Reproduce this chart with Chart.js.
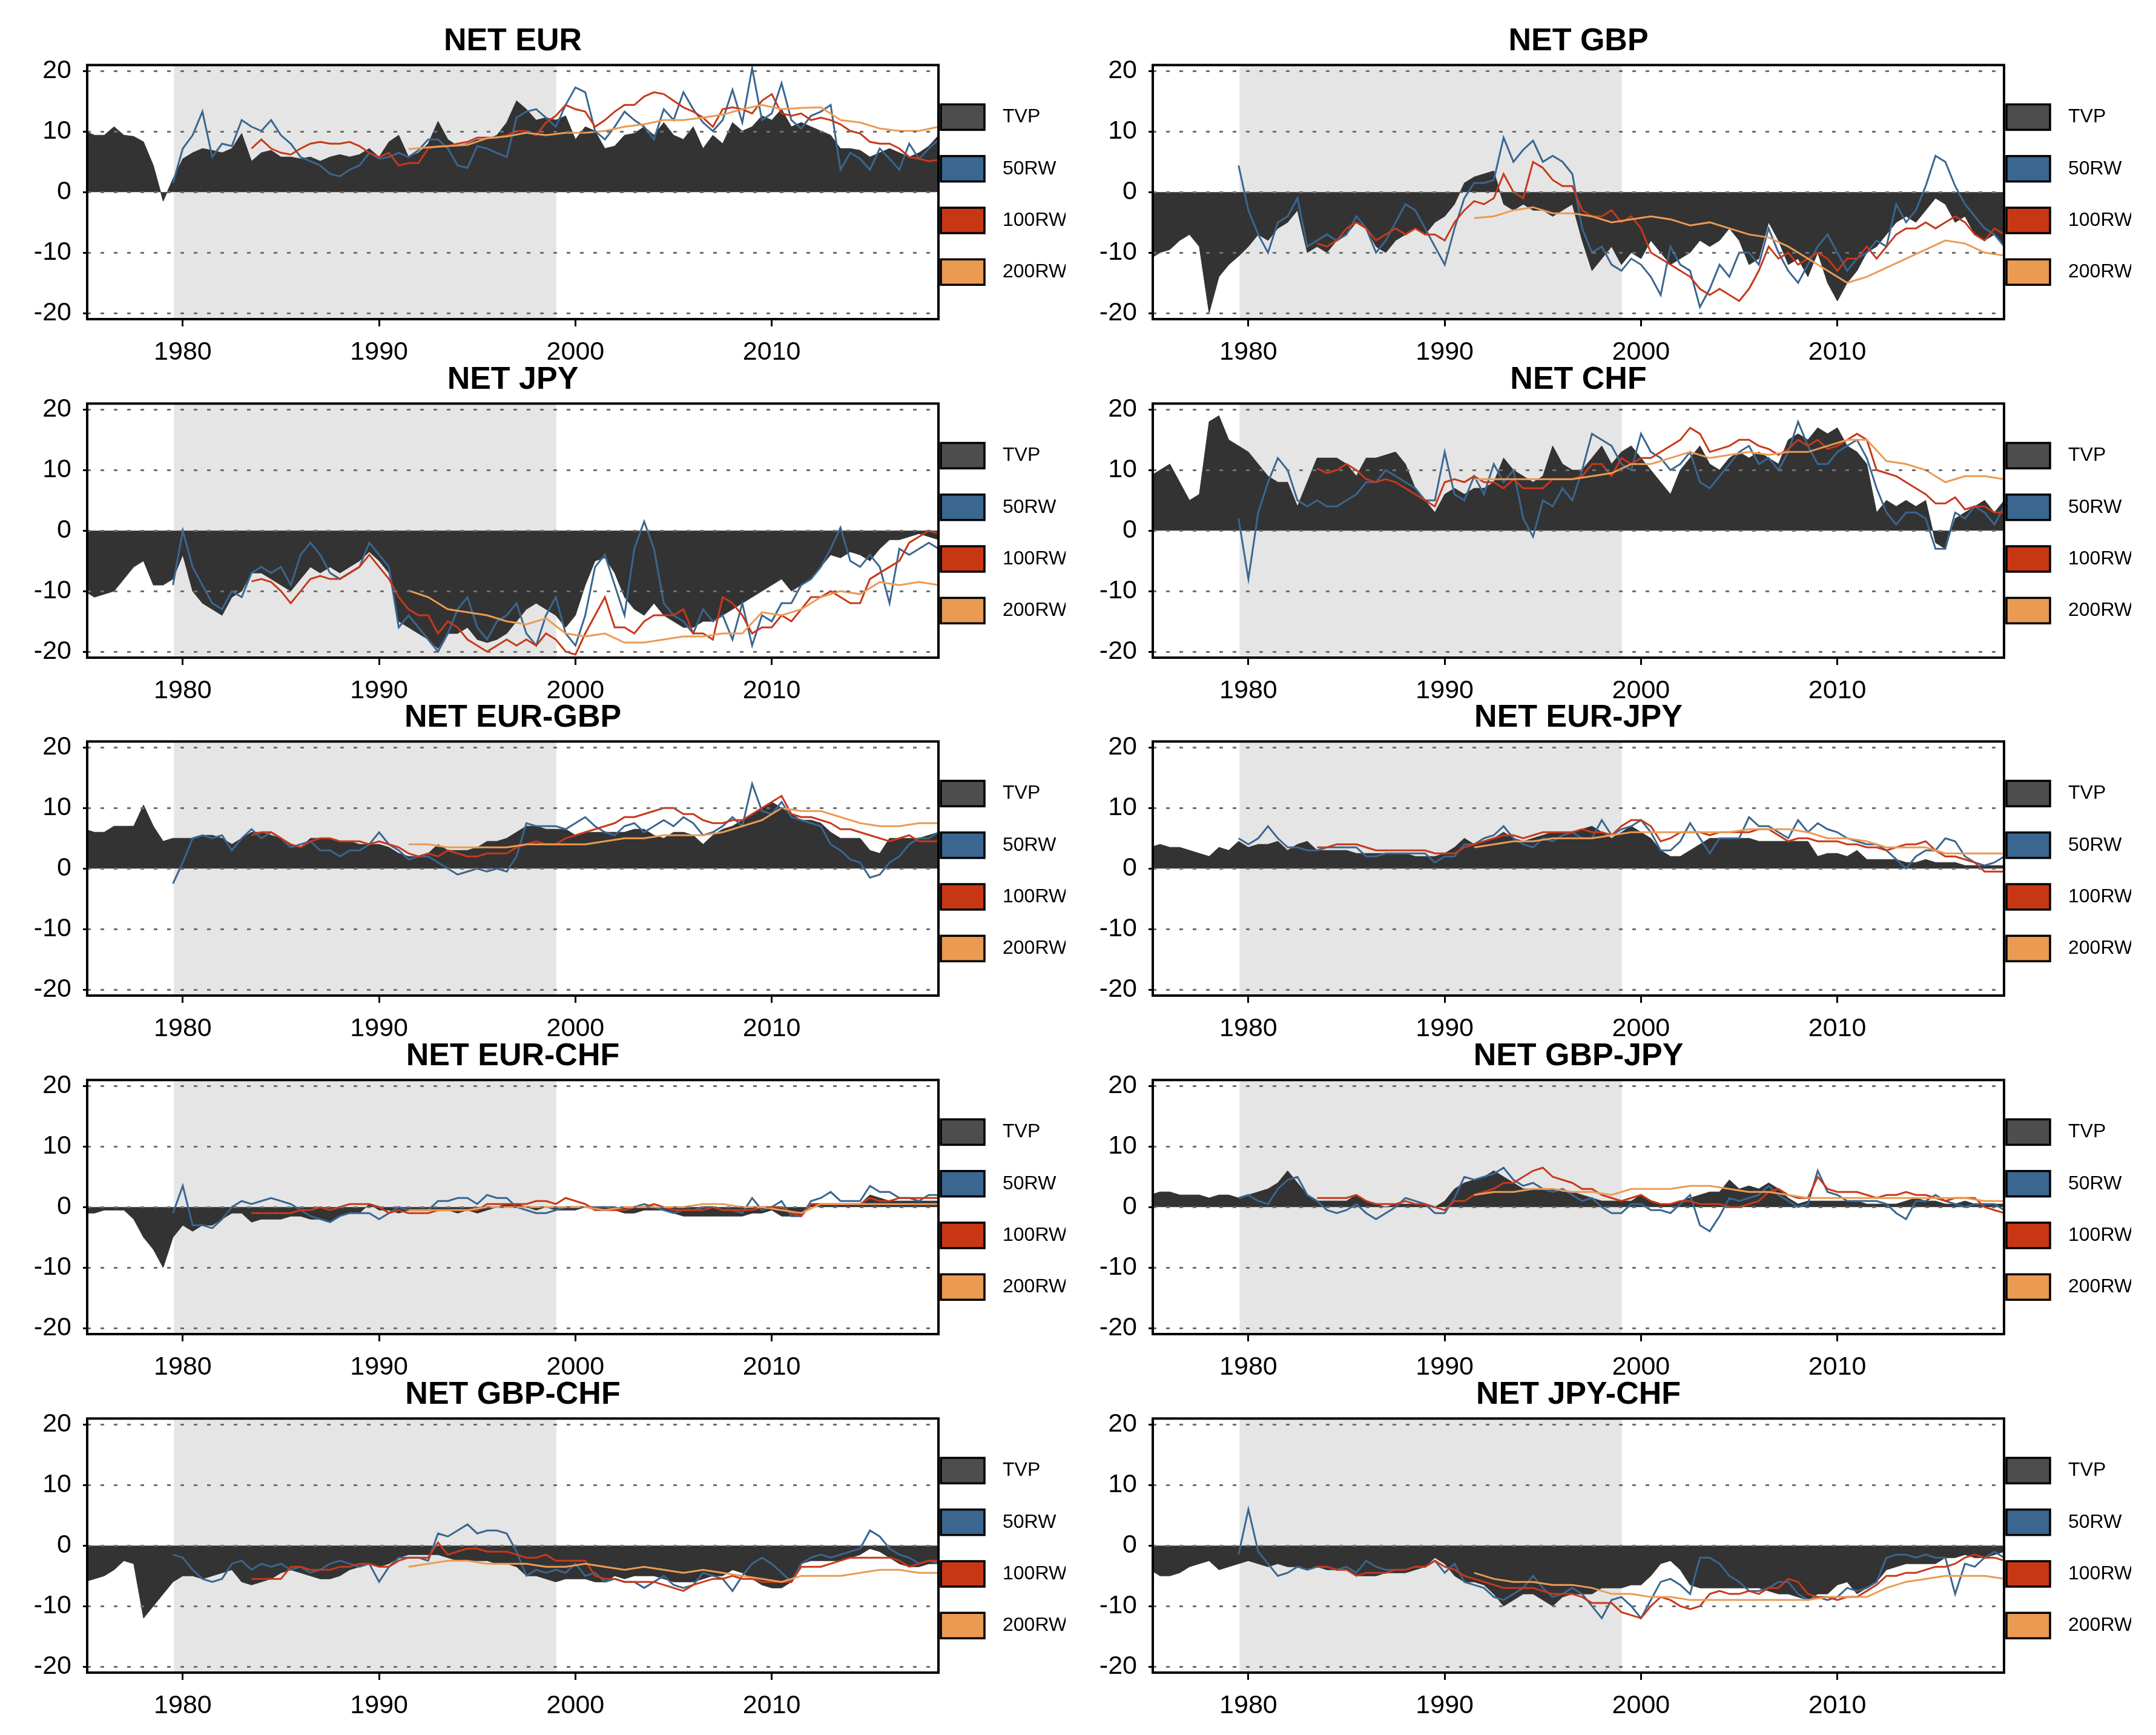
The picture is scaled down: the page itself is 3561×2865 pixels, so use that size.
<!DOCTYPE html>
<html>
<head>
<meta charset="utf-8">
<script src="https://cdn.jsdelivr.net/npm/chart.js@4.4.1/dist/chart.umd.min.js"></script>
<style>
  body { margin: 0; background: #fff; }
  #wrap { position: relative; width: 3561px; height: 2865px; overflow: hidden; background: #fff; }
  #wrap canvas { position: absolute; }
</style>
</head>
<body>
<div id="wrap"></div>
<script>
// axis ticks
const xTicks = [1980, 1990, 2000, 2010];
const yTicks = [-20, -10, 0, 10, 20];

// series: TVP every half year from 1975, rolling windows from their first estimate
const seriesNames = ["TVP", "50RW", "100RW", "200RW"];
const seriesStart = [1975, 1979.5, 1983.5, 1991.5];
const seriesStep = [0.5, 0.5, 0.5, 1];

// grey band (1979.5 - 1999)
const shadeFrom = 1979.55, shadeTo = 1999.02;

const panelTitles = ["NET EUR", "NET GBP", "NET JPY", "NET CHF", "NET EUR-GBP",
  "NET EUR-JPY", "NET EUR-CHF", "NET GBP-JPY", "NET GBP-CHF", "NET JPY-CHF"];

// ---- NET EUR
const eur_tvp = [10.1, 9.4, 9.4, 10.8, 9.4, 9.2, 8.3, 4.4, -1.5, 2.2,
  5.5, 6.5, 7.2, 6.9, 6.5, 7.2, 9.7, 5.1, 6.5, 6.9,
  5.8, 5.8, 5.5, 5.8, 5.1, 5.8, 6.2, 5.8, 6.2, 7.2,
  5.8, 8.3, 9.4, 5.8, 6.5, 8.0, 11.7, 8.7, 7.6, 8.0,
  8.7, 8.7, 9.4, 11.5, 15.1, 13.7, 11.9, 12.3, 11.9, 12.6,
  8.7, 10.8, 10.1, 7.2, 7.6, 9.4, 9.7, 10.8, 9.4, 11.5,
  9.4, 8.7, 10.8, 7.2, 9.4, 8.0, 11.5, 10.1, 10.8, 12.6,
  11.9, 13.7, 10.8, 11.5, 10.8, 10.1, 9.4, 7.2, 7.2, 6.9,
  5.8, 6.5, 7.2, 6.5, 5.8, 6.5, 7.6, 9.4];
const eur_rw50 = [1.5,
  7.2, 9.4, 13.3, 5.8, 8.0, 7.6, 11.9, 10.8, 10.1, 11.9,
  9.4, 8.0, 5.8, 5.1, 4.4, 3.0, 2.6, 3.7, 4.4, 6.5,
  5.5, 5.8, 6.5, 5.8, 6.9, 8.7, 8.7, 7.2, 4.4, 4.0,
  7.6, 7.2, 6.5, 5.8, 12.3, 13.3, 13.7, 12.3, 10.8, 14.4,
  17.3, 16.5, 10.1, 8.7, 10.8, 13.3, 11.9, 10.8, 8.7, 13.7,
  11.9, 16.5, 13.7, 11.5, 10.1, 11.9, 16.9, 11.5, 20.5, 11.9,
  13.0, 18.0, 11.9, 10.5, 12.6, 13.3, 14.4, 3.7, 6.5, 5.5,
  3.7, 7.2, 5.5, 3.7, 8.0, 5.5, 7.2, 8.7];
const eur_rw100 = [7.2, 8.7, 7.2,
  6.5, 6.2, 7.2, 8.0, 8.3, 8.0, 8.0, 8.3, 7.6, 6.5,
  5.8, 6.5, 4.4, 4.8, 4.8, 7.2, 7.6, 7.6, 8.0, 8.3,
  9.0, 9.0, 9.0, 9.4, 10.1, 10.1, 9.4, 11.5, 12.6, 14.4,
  13.7, 13.3, 10.8, 11.9, 13.3, 14.4, 14.4, 15.8, 16.5, 16.2,
  15.1, 14.0, 13.3, 12.3, 10.8, 13.7, 14.0, 13.7, 13.0, 15.1,
  16.2, 13.0, 12.6, 13.0, 11.9, 12.3, 11.9, 11.2, 10.1, 9.7,
  8.3, 8.0, 8.0, 7.2, 5.8, 5.5, 5.1, 5.3];
const eur_rw200 = [7.1, 7.4, 7.6, 7.8, 8.9, 9.2, 9.8, 9.4, 9.8, 9.8, 10.1, 10.8, 11.2, 11.9,
  11.9, 12.3, 12.8, 13.7, 14.4, 13.7, 13.9, 14.0, 11.9, 11.5, 10.5, 10.1, 10.1, 10.8];

// ---- NET GBP
const gbp_tvp = [-11, -10, -9.5, -8, -7, -9, -20, -14, -12, -10.6,
  -9, -7, -8, -6, -5, -3, -10, -9, -10, -8,
  -7, -5, -6, -9, -10, -8, -7, -6, -7, -5,
  -4, -2, 1.5, 2.5, 3, 3.5, -2, -3, -2, -3,
  -3, -4, -3, -2, -8, -13, -11, -9, -12, -10,
  -11, -8, -10, -12, -11, -10, -8, -9, -8, -6,
  -8, -12, -11, -5, -8, -12, -11, -14, -10, -15,
  -18, -15, -13, -10, -9, -7, -5, -4, -5, -3,
  -1, -2, -5, -4, -7, -8, -7, -9];
const gbp_rw50 = [4.4,
  -3, -7, -10, -5, -4, -1, -9, -8, -7, -8,
  -7, -4, -6, -10, -8, -5, -2, -3, -6, -9,
  -12, -6, -1, 1.5, 1.5, 2, 9, 5, 7, 8.5,
  5, 6, 5, 3, -6, -10, -9, -12, -13, -11,
  -12, -14, -17, -9, -12, -13, -19, -16, -12, -14,
  -10, -10, -12, -6, -10, -13, -15, -12, -9, -7,
  -10, -13, -11, -10, -8, -9, -2, -5, -3, 1,
  6, 5, 1, -2, -4, -6, -7, -9];
const gbp_rw100 = [-8.5, -9, -8,
  -6, -5, -6, -8, -7, -6, -7, -6, -7, -7,
  -8, -5, -3, -1.5, -2, -1, 3, 0, -1, 5,
  4, 2, 1, 1, -3, -4, -4, -3, -5, -4,
  -6, -10, -11, -12, -13, -14, -16, -17, -16, -17,
  -18, -16, -13, -9, -11, -10, -12, -11, -10, -11,
  -13, -11, -11, -9, -11, -9, -7, -6, -6, -5,
  -6, -5, -4, -5, -7, -8, -6, -7];
const gbp_rw200 = [-4.3, -4, -3, -2.5, -3.5, -3.5, -4, -5, -4.5, -4, -4.5, -5.5, -5, -6,
  -7, -7.5, -9, -11, -13, -15, -14, -12.5, -11, -9.5, -8, -8.5, -10, -10.5];

// ---- NET JPY
const jpy_tvp = [-10, -11, -10.5, -10, -8, -6, -5, -9, -9, -8,
  -4, -10, -12, -13, -14, -11, -10, -7, -7, -8,
  -9, -10, -8, -6, -7, -6, -7, -6, -5, -3.5,
  -5, -7, -15, -16, -17, -18, -19.5, -17, -17, -16,
  -18, -18.5, -18, -17, -15, -13, -12, -13, -14, -16,
  -14, -9, -5, -4.5, -7, -11, -13, -14, -12, -14,
  -15, -16, -16, -15, -15, -14, -13, -12, -11, -10,
  -9, -8, -10, -9, -8, -6, -4, -4.5, -3.5, -4,
  -5, -3, -1.5, -1.5, -1, -0.5, -1, -1.5];
const jpy_rw50 = [-9,
  0, -6, -9, -12, -13, -10, -11, -7, -6, -7,
  -6, -9, -4, -2, -4, -7, -8, -7, -6, -2,
  -4, -6, -16, -14, -16, -18, -20, -17, -13, -11,
  -16, -18, -15, -14, -12, -17, -19, -14, -11, -17,
  -19, -14, -6, -4, -9, -14, -3, 1.5, -3, -12,
  -14, -15, -17, -13, -15, -14, -18, -12, -19, -14,
  -15, -12, -12, -9, -8, -6, -3, 0.5, -5, -6,
  -4, -6, -12, -3, -4, -3, -2, -3];
const jpy_rw100 = [-8.4, -8, -8.5,
  -10, -12, -10, -8, -7.5, -8, -8, -7, -6, -4,
  -6, -8, -11, -13, -14, -14, -17, -15, -16, -18,
  -19, -20, -19, -18, -19, -18, -19, -17, -18, -20,
  -20.5, -17, -14, -11, -16, -16, -17, -15, -14, -14,
  -14, -13, -17, -17, -18, -11, -12, -14, -17, -16,
  -16, -14, -15, -13, -11, -11, -10, -11, -12, -12,
  -8, -7, -6, -5, -2, -1, 0, -0.5];
const jpy_rw200 = [-9.9, -11, -13, -13.5, -14, -15, -15.5, -14.5, -17, -17.5, -17, -18.5, -18.5, -18,
  -17.5, -17.5, -17, -17, -13.5, -14, -13, -11, -10, -10.5, -8.5, -9, -8.5, -9];

// ---- NET CHF
const chf_tvp = [9, 10, 11, 8, 5, 6, 18, 19, 15, 14,
  13, 11, 9, 8, 8, 4, 8, 12, 12, 12,
  11, 9, 12, 12, 12.5, 13, 11, 7, 5, 3,
  6, 7, 6, 7, 7, 8, 12, 10, 9, 8,
  9, 14, 11, 10, 10, 12, 14, 11, 13, 14,
  12, 10, 8, 6, 10, 12, 14, 11, 10, 12,
  13, 12, 13, 12, 11, 15, 16, 15, 17, 16,
  17, 14, 13, 11, 3, 5, 4, 5, 4, 5,
  -2, -3, 2, 3, 4, 5, 3, 5];
const chf_rw50 = [2,
  -8, 3, 8, 12, 10, 5, 4, 5, 4, 4,
  5, 6, 8, 8, 10, 9, 8, 7, 5, 5,
  13, 6, 5, 9, 6, 11, 8, 10, 2, -1,
  5, 4, 7, 5, 10, 16, 15, 14, 11, 10,
  16, 13, 12, 10, 11, 13, 8, 7, 9, 11,
  13, 14, 11, 12, 10, 13, 18, 14, 11, 11,
  13, 14, 15, 12, 7, 3, 1, 3, 3, 2,
  -3, -3, 3, 2, 4, 3, 1, 4];
const chf_rw100 = [10.3, 9.5, 10,
  11, 10, 8.5, 8, 8.5, 8, 7, 6, 5, 4,
  8, 8.5, 8, 9, 8, 8, 7, 8.5, 7, 7,
  7, 8.5, 8.5, 8.5, 9, 11, 11, 9, 12, 11,
  12, 12, 13, 14, 15, 17, 16, 13, 13.5, 14,
  15, 15, 14, 13.5, 12.5, 13.5, 15, 14, 15, 13.5,
  14, 15, 16, 15, 10, 9.5, 9, 8, 7, 6,
  4.5, 4.5, 5.5, 3.5, 4, 4, 3, 3];
const chf_rw200 = [8.5, 8.5, 8.5, 8.5, 8.5, 8.5, 9, 9.5, 11, 11, 12, 13, 12, 12.5,
  13, 12.5, 13, 13, 14, 15, 15, 11.5, 11, 10, 8, 9, 9, 8.5];

// ---- NET EUR-GBP
const eurgbp_tvp = [6.5, 6, 6, 7, 7, 7, 10.5, 7, 4.5, 5,
  5, 5, 5.5, 5.5, 5, 4, 5, 6, 6, 5.5,
  5, 4, 3.5, 5, 5, 5, 4.5, 4.5, 4, 4,
  4, 3.5, 2.5, 2, 2, 2.5, 4, 3, 3, 3,
  3.5, 4.5, 4.5, 5, 6, 7, 7, 6.5, 6.5, 6.5,
  5.5, 6, 6, 6, 6, 6, 6.5, 6.5, 5.5, 5,
  6, 6, 5.5, 4, 5.5, 6.5, 7, 8, 9, 10,
  11, 10, 9, 8, 8, 7.5, 6, 5, 5, 5,
  3, 2.5, 5, 5, 5, 5, 5.5, 6];
const eurgbp_rw50 = [-2.5,
  1, 5, 5.5, 5, 5.5, 3, 5, 6.5, 5, 6,
  5, 3.5, 4, 4.5, 3, 3, 2, 3, 3, 4,
  6, 4, 3, 1.5, 2, 2, 1, 0, -1, -0.5,
  0, -0.5, 0, -0.5, 2, 7.5, 7, 7, 7, 6.5,
  7.5, 8.5, 7, 6, 5.5, 7, 7.5, 6, 7, 8,
  7, 8.5, 7.5, 5.5, 6, 7, 8.5, 7, 14, 9.5,
  9, 11, 8.5, 8, 7.5, 7, 4, 3, 1.5, 1,
  -1.5, -1, 1, 2, 4, 5, 5, 6];
const eurgbp_rw100 = [5.5, 6, 6,
  5, 4, 3.5, 4.5, 5, 5, 4.5, 4.5, 4.5, 4,
  4.5, 4, 3.5, 2.5, 2, 2.5, 2, 3, 2.5, 2,
  2, 2.5, 2.5, 2.5, 3.5, 4, 4.5, 4, 4, 5,
  5.5, 6, 6.5, 7, 7.5, 8.5, 8.5, 9, 9.5, 10,
  10, 9, 9, 8, 7.5, 7.5, 8, 8, 9, 10,
  11, 12, 9, 8.5, 8.5, 8, 7.5, 6.5, 6.5, 6,
  5.5, 5, 4.5, 5, 5.5, 4.5, 4.5, 4.5];
const eurgbp_rw200 = [4, 4, 3.5, 3.5, 3.5, 3.5, 4, 4, 4, 4, 4.5, 5, 5, 5.5,
  5.5, 5.5, 6, 7, 8, 10, 9.5, 9.5, 8.5, 7.5, 7, 7, 7.5, 7.5];

// ---- NET EUR-JPY
const eurjpy_tvp = [3.5, 4, 3.5, 3.5, 3, 2.5, 2, 3.5, 3, 4.5,
  3.5, 4, 4, 4.5, 3, 4, 4.5, 3, 3, 3,
  3, 2.5, 2.5, 2.5, 2.5, 2.5, 2.5, 2, 2, 2,
  2.5, 3.5, 5, 4, 4.5, 5, 6, 5, 4.5, 5,
  5.5, 6, 6, 6, 6.5, 7, 6, 5, 6, 7,
  6, 5, 3, 2, 2, 3, 4, 5, 5, 5,
  5, 5, 4.5, 4.5, 4.5, 4.5, 4.5, 4.5, 2, 2.5,
  2.5, 2, 3, 1.5, 1.5, 1.5, 1.5, 1, 1, 1.5,
  1, 1, 1, 0.5, 0.5, 0.5, 0.5, 0.5];
const eurjpy_rw50 = [5,
  4, 5, 7, 5, 3.5, 3.5, 3, 3, 3.5, 3.5,
  3.5, 3.5, 2, 2, 2.5, 2.5, 2.5, 2.5, 2.5, 1,
  2, 2, 4, 4, 5, 5.5, 7, 5, 4, 3.5,
  5, 4.5, 5.5, 6, 5, 5, 8, 5.5, 6.5, 7,
  8, 6, 3, 3, 4.5, 7.5, 5, 2.5, 5, 5,
  5, 8.5, 7, 7, 6, 5, 8, 6, 7.5, 6.5,
  6, 5, 4.5, 4, 4, 3, 1.5, 0, 2, 3,
  3, 5, 4.5, 2, 1, 0.5, 1, 2];
const eurjpy_rw100 = [3.5, 3.5, 4,
  4, 4, 3.5, 3, 3, 3, 3, 3, 3, 2.5,
  2.5, 2.5, 3.5, 4, 4.5, 5, 5.5, 5.5, 5, 5.5,
  6, 6, 6, 6, 6.5, 6, 6, 5.5, 7, 8,
  8, 7, 4.5, 5, 6, 6, 6, 5.5, 6, 6,
  6, 6, 6.5, 6.5, 5.5, 4.5, 5, 5, 4.5, 4.5,
  4.5, 4, 4, 3.5, 3.5, 3, 3.5, 4, 4, 4.5,
  3, 2, 2, 1.5, 1, -0.5, -0.5, -0.5];
const eurjpy_rw200 = [3.5, 4, 4.5, 4.5, 5, 5, 5, 5.5, 6, 6, 6, 6, 6, 6,
  6.5, 6.5, 6.5, 6, 5, 5, 4.5, 3.5, 3.5, 3.5, 2.5, 2.5, 2.5, 2.5];

// ---- NET EUR-CHF
const eurchf_tvp = [-1, -1, -0.5, -0.5, -0.5, -2, -5, -7, -10, -5,
  -3, -4, -3, -3, -2, -1, -1, -2.5, -2, -2,
  -2, -1.5, -1.5, -2, -2, -2.5, -1.5, -1, -1, 0.5,
  -0.5, -0.5, -1, -0.5, -0.5, -0.5, -0.5, -0.5, -1, -0.5,
  -1, -0.5, 0, 0.5, 0.5, 0, -0.5, 0, -0.5, -0.5,
  -0.5, 0, -0.5, -0.5, -0.5, -1, -1, -0.5, -0.5, -0.5,
  -1, -1.5, -1.5, -1.5, -1.5, -1.5, -1.5, -1.5, -1, -1,
  -0.5, -1.5, -1.5, -1.5, 0.5, 0.5, 0.5, 0.5, 0.5, 0.5,
  2, 1.5, 1, 1, 1, 1, 1, 1];
const eurchf_rw50 = [-1,
  3.5, -3, -3, -3.5, -2, 0, 1, 0.5, 1, 1.5,
  1, 0.5, -0.5, -1.5, -2, -2.5, -1.5, -1, -1, -1,
  -2, -1, 0, -0.5, -0.5, -0.5, 1, 1, 1.5, 1.5,
  0.5, 2, 1.5, 1.5, 0, -0.5, -1, -1, -0.5, 0,
  0, 0, 0, 0, 0, -0.5, 0, 0.5, 0, -0.5,
  -1, -0.5, -0.5, 0, 0, -0.5, -0.5, -1, 1.5, -0.5,
  0, 1, -1.5, -1.5, 1, 1.5, 2.5, 1, 1, 1,
  3.5, 2.5, 2.5, 1.5, 1.5, 1, 2, 2];
const eurchf_rw100 = [-1, -1, -1,
  -1, -1, -0.5, -0.5, 0, -0.5, 0, 0.5, 0.5, 0.5,
  0, -1, -0.5, -1, -1, -1, -0.5, -0.5, -0.5, -0.5,
  -0.5, 0.5, 0.5, 0.5, 0.5, 0.5, 1, 1, 0.5, 1.5,
  1, 0.5, -0.5, -0.5, -0.5, -0.5, 0, 0, 0.5, 0,
  -0.5, -0.5, -0.5, -0.5, 0, -0.5, -0.5, -0.5, -0.5, 0,
  0, 0, -1, -1.5, 0.5, 0.5, 0.5, 0.5, 0.5, 0.5,
  1.5, 1, 1, 1.5, 1.5, 1.5, 1.5, 1.5];
const eurchf_rw200 = [-0.5, -0.5, -0.5, -0.5, 0, 0, 0, 0, 0, 0, -0.5, 0, 0, 0,
  0, 0.5, 0.5, 0, 0, -0.5, -1, 0.5, 0.5, 0.5, 0.5, 0.5, 0.5, 0.5];

// ---- NET GBP-JPY
const gbpjpy_tvp = [2, 2.5, 2.5, 2, 2, 2, 1.5, 2, 2, 1.5,
  2, 2.5, 3, 4, 6, 4, 2, 1, 1, 1,
  1, 2, 1, 0.5, 0, 0.5, 0.5, 0.5, 0.5, 0,
  1, 3, 4, 4.5, 5, 6, 5, 4, 3, 3,
  3, 3, 2.5, 2.5, 2, 1.5, 1, 1, 1, 1,
  2, 1, 0.5, 0.5, 1, 1.5, 2, 2.5, 2.5, 4.5,
  3, 3.5, 3, 4, 3, 1.5, 0.5, 1, 1, 1,
  1, 1, 1, 0.5, 0.5, 0.5, 0.5, 1, 1.5, 1,
  1, 0.5, 0.5, 1, 0.5, 0.5, 0.5, 0.5];
const gbpjpy_rw50 = [1.5,
  2, 1, 0.5, 3, 4.5, 5, 2, 1, -0.5, -1,
  -0.5, 0.5, -1, -2, -1, 0, 1.5, 1, 0.5, -1,
  -1, 1.5, 5, 4.5, 5, 5.5, 6.5, 4.5, 3.5, 4,
  3, 2.5, 3, 2, 1, 1.5, 0, -1, -1, 0.5,
  0.5, -0.5, -0.5, -1, 0.5, 2, -3, -4, -1.5, 1.5,
  1, 1.5, 2, 3.5, 2, 1, 0, 0.5, 6, 2.5,
  2, 1, 1, 1, 1, 0.5, -1, -2, 1, 1,
  2, 1, 0.5, 0, 0.5, 0.5, 0.5, -0.5];
const gbpjpy_rw100 = [1.5, 1.5, 1.5,
  1.5, 2, 1, 0.5, 0.5, 0.5, 1, 0.5, 0.5, 0,
  -0.5, 1, 1, 2, 2.5, 3, 4, 4, 5, 6,
  6.5, 5, 4.5, 4, 3, 3, 2, 1.5, 1, 1.5,
  2, 1, 0.5, 0.5, 1, 1, 0.5, 0.5, 0.5, 0,
  0, 0.5, 1, 2.5, 3, 2, 1.5, 1.5, 5, 3,
  2.5, 2.5, 2.5, 2, 1.5, 2, 2, 2.5, 2, 2,
  1.5, 1, 1.5, 1.5, 1.5, 0, -0.5, -1];
const gbpjpy_rw200 = [2, 2.5, 2.5, 3, 3, 2.5, 2.5, 2, 3, 3, 3, 3.5, 3.5, 3,
  2.5, 2.5, 2, 1.5, 1.5, 1.5, 1.5, 1.5, 1.5, 1.5, 1.5, 1.5, 1, 1];

// ---- NET GBP-CHF
const gbpchf_tvp = [-6, -5.5, -5, -4, -2.5, -3, -12, -10, -8, -6,
  -5, -5, -5.5, -5, -4.5, -4, -6, -6.5, -6, -5.5,
  -4.5, -4, -4.5, -5, -5.5, -5.5, -5, -4, -3.5, -3,
  -3.5, -3, -2, -1.5, -1.5, -1.5, -1.5, -2, -2.5, -2.5,
  -2.5, -2.5, -3, -3, -3.5, -5, -5, -5.5, -6, -5.5,
  -5.5, -5.5, -6, -6, -5, -5.5, -5, -5, -5, -5.5,
  -6, -6, -6, -5.5, -5, -5, -4, -4.5, -5.5, -6.5,
  -7, -7, -6, -3, -2.5, -2.5, -2.5, -2.5, -2, -1.5,
  -0.5, -1, -2, -3, -3.5, -3.5, -3, -3];
const gbpchf_rw50 = [-1.5,
  -2, -4, -5.5, -6, -5.5, -3, -2.5, -4, -3, -3.5,
  -3, -4, -3.5, -4.5, -4, -3, -2.5, -3, -3.5, -3,
  -6, -3.5, -2, -2, -2, -2.5, 2, 1.5, 2.5, 3.5,
  2, 2.5, 2.5, 2, -1, -5, -4, -4.5, -4, -4.5,
  -3, -5, -4.5, -6, -5.5, -6, -6, -7, -6, -5,
  -6.5, -7, -6.5, -4.5, -5, -5.5, -7.5, -5, -3, -2,
  -3, -4.5, -6, -3, -2, -1.5, -2, -1.5, -1, -0.5,
  2.5, 1.5, -0.5, -1.5, -2, -3, -2.5, -3];
const gbpchf_rw100 = [-5.5, -5.5, -5.5,
  -5.5, -3.5, -3.5, -4, -4, -4, -3.5, -3.5, -3, -3,
  -3.5, -3.5, -2.5, -2, -2, -2, 0.5, -1.5, -1, -0.5,
  -0.5, -1, -1, -1, -1.5, -2, -2, -1.5, -2.5, -2.5,
  -2.5, -2.5, -5, -5.5, -5.5, -6, -6, -6, -6, -6.5,
  -7, -7.5, -6.5, -6, -5.5, -5.5, -5, -5.5, -5.5, -6,
  -6, -6, -6, -3.5, -3.5, -3.5, -3, -2.5, -2, -2,
  -2, -2, -2, -2.5, -3.5, -3, -2.5, -2.5];
const gbpchf_rw200 = [-3.5, -3, -2.5, -2.5, -3, -3, -3, -3.5, -3.5, -3, -3.5, -4, -3.5, -4,
  -4.5, -4, -4.5, -5, -5.5, -6, -5, -5, -5, -4.5, -4, -4, -4.5, -4.5];

// ---- NET JPY-CHF
const jpychf_tvp = [-4, -5, -5, -4.5, -3.5, -3, -2.5, -4, -3.5, -3,
  -2.5, -3, -3.5, -3, -3.5, -3.5, -4, -3.5, -4, -4,
  -4, -5, -5, -5, -4.5, -4.5, -4.5, -4, -3.5, -2,
  -3, -5, -6, -6, -6.5, -8, -10, -9, -8, -8,
  -9, -10, -8.5, -8, -8, -8, -7, -7, -7, -6.5,
  -6.5, -5, -3, -2.5, -4, -6.5, -7, -7, -7, -7,
  -7, -7, -7, -7.5, -8, -8, -8.5, -9, -8, -8,
  -6.5, -6, -8, -7, -6, -4, -3.5, -3, -3, -3,
  -3, -2, -2, -1.5, -2, -2, -1.5, -1];
const jpychf_rw50 = [-1.5,
  6, -1, -3, -5, -4.5, -3.5, -4, -3.5, -3.5, -4,
  -3.5, -4.5, -2.5, -3.5, -4, -4, -4, -3.5, -3.5, -2.5,
  -4.5, -3, -6, -6.5, -7, -8.5, -9, -8, -7, -5,
  -7, -8.5, -8, -7, -8, -10, -12, -9, -8.5, -10,
  -12, -9, -6, -5.5, -6.5, -8, -2, -2, -3, -5,
  -6, -7.5, -7.5, -7, -6, -6, -8, -9, -8.5, -9,
  -8.5, -7, -7.5, -7, -6, -2, -1.5, -1.5, -2, -1.5,
  -2, -2, -8, -3, -3.5, -2, -1, -2];
const jpychf_rw100 = [-3.5, -3.5, -4,
  -4, -5, -4.5, -4.5, -4.5, -4, -4, -3.5, -3.5, -2.5,
  -3.5, -4, -5, -5.5, -6, -6.5, -7, -7, -7, -7,
  -7.5, -8, -8, -8, -8.5, -9.5, -9.5, -9.5, -11, -11.5,
  -12, -10, -8.5, -9, -10, -10.5, -10, -8, -7.5, -8,
  -8, -7.5, -8, -7, -7, -5.5, -6, -8, -8.5, -8.5,
  -9, -8.5, -8.5, -7.5, -6.5, -5, -5, -4.5, -4.5, -4,
  -3.5, -3.5, -3, -2, -1.5, -2, -2, -2.5];
const jpychf_rw200 = [-4.5, -5.5, -6, -6, -6.5, -6.5, -7, -8, -8, -8.5, -8.5, -9, -9, -9,
  -9, -9, -9, -9, -8.5, -8.5, -8.5, -7, -6, -5.5, -5, -5, -5, -5.5];

const panelData = [
  [eur_tvp, eur_rw50, eur_rw100, eur_rw200],
  [gbp_tvp, gbp_rw50, gbp_rw100, gbp_rw200],
  [jpy_tvp, jpy_rw50, jpy_rw100, jpy_rw200],
  [chf_tvp, chf_rw50, chf_rw100, chf_rw200],
  [eurgbp_tvp, eurgbp_rw50, eurgbp_rw100, eurgbp_rw200],
  [eurjpy_tvp, eurjpy_rw50, eurjpy_rw100, eurjpy_rw200],
  [eurchf_tvp, eurchf_rw50, eurchf_rw100, eurchf_rw200],
  [gbpjpy_tvp, gbpjpy_rw50, gbpjpy_rw100, gbpjpy_rw200],
  [gbpchf_tvp, gbpchf_rw50, gbpchf_rw100, gbpchf_rw200],
  [jpychf_tvp, jpychf_rw50, jpychf_rw100, jpychf_rw200]
];

const lineColors = ["#333333", "#3a6690", "#c8381a", "#eb9b54"];
const boxColors = ["#4d4d4d", "#3a6690", "#c83714", "#eb9a52"];
const FONT = "'Liberation Sans', Arial, Helvetica, sans-serif";

function toPoints(values, s) {
  return values.map((v, i) => ({ x: seriesStart[s] + i * seriesStep[s], y: v }));
}

// grey band behind the series
const shadePlugin = {
  id: "shade",
  beforeDatasetsDraw(chart) {
    const { ctx, chartArea, scales } = chart;
    const x0 = scales.x.getPixelForValue(shadeFrom);
    const x1 = scales.x.getPixelForValue(shadeTo);
    ctx.save();
    ctx.fillStyle = "#e5e5e5";
    ctx.fillRect(x0, chartArea.top, x1 - x0, chartArea.bottom - chartArea.top);
    ctx.restore();
  }
};

// box around the plot and the legend on the right
const frameLegendPlugin = {
  id: "frameLegend",
  afterDraw(chart) {
    const { ctx, chartArea: a } = chart;
    ctx.save();
    ctx.strokeStyle = "#000";
    ctx.lineWidth = 4;
    ctx.strokeRect(a.left, a.top, a.right - a.left, a.bottom - a.top);
    ctx.font = "32px " + FONT;
    ctx.textBaseline = "middle";
    seriesNames.forEach((name, i) => {
      const cy = a.top + 86 + i * 85.3;
      ctx.fillStyle = boxColors[i];
      ctx.fillRect(a.right + 4, cy - 21, 72, 42);
      ctx.lineWidth = 3.5;
      ctx.strokeRect(a.right + 4, cy - 21, 72, 42);
      ctx.fillStyle = "#000";
      ctx.fillText(name, a.right + 106, cy);
    });
    ctx.restore();
  }
};

const wrap = document.getElementById("wrap");

panelTitles.forEach((title, p) => {
  const col = p % 2, row = Math.floor(p / 2);
  const canvas = document.createElement("canvas");
  canvas.width = 1760;
  canvas.height = 620;
  canvas.style.left = col * 1760 + "px";
  canvas.style.top = Math.round(row * 558.7) + "px";
  wrap.appendChild(canvas);

  new Chart(canvas, {
    type: "line",
    data: {
      datasets: panelData[p].map((vals, s) => ({
        label: seriesNames[s],
        data: toPoints(vals, s),
        borderColor: lineColors[s],
        backgroundColor: lineColors[s],
        borderWidth: s === 0 ? 1 : 3,
        fill: s === 0 ? "origin" : false,
        pointRadius: 0,
        tension: 0,
        order: 3 - s
      }))
    },
    options: {
      responsive: false,
      animation: false,
      events: [],
      layout: { padding: { left: 0, right: 210, top: 0, bottom: 0 } },
      plugins: {
        legend: { display: false },
        tooltip: { enabled: false },
        title: {
          display: true,
          text: title,
          fullSize: false,
          color: "#000",
          font: { size: 52, weight: "bold", family: FONT },
          padding: { top: 37, bottom: 8 }
        }
      },
      scales: {
        x: {
          type: "linear",
          min: 1975.13,
          max: 2018.49,
          afterBuildTicks: (s) => { s.ticks = xTicks.map((v) => ({ value: v })); },
          afterFit: (s) => { s.height = 93; },
          grid: { drawOnChartArea: false, tickLength: 12, tickWidth: 3, tickColor: "#000" },
          border: { display: false },
          ticks: {
            color: "#000",
            font: { size: 43, family: FONT },
            padding: 17,
            maxRotation: 0,
            callback: (v) => String(v)
          }
        },
        y: {
          min: -21,
          max: 21,
          afterBuildTicks: (s) => { s.ticks = yTicks.map((v) => ({ value: v })); },
          afterFit: (s) => { s.width = 144; },
          grid: { color: "#6f6f6f", lineWidth: 3, z: 1, tickLength: 7, tickWidth: 3, tickColor: "#000" },
          border: { display: false, dash: [6, 16] },
          ticks: {
            color: "#000",
            font: { size: 43, family: FONT },
            padding: 19,
            callback: (v) => String(v)
          }
        }
      }
    },
    plugins: [shadePlugin, frameLegendPlugin]
  });
});
</script>
</body>
</html>
